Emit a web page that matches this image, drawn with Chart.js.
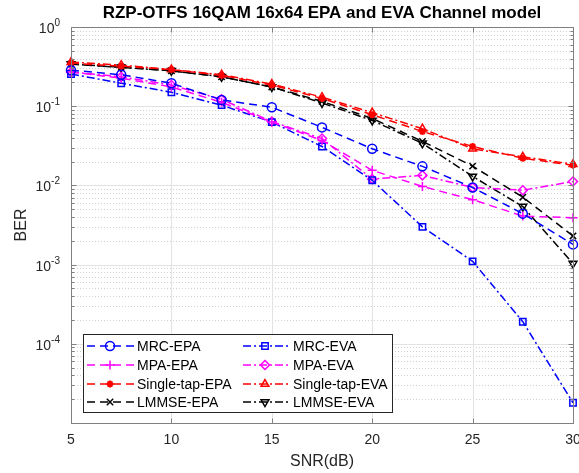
<!DOCTYPE html>
<html>
<head>
<meta charset="utf-8">
<script src="https://cdn.jsdelivr.net/npm/chart.js@4/dist/chart.umd.min.js"></script>
<style>
  html, body { margin: 0; padding: 0; background: #fff; }
  canvas { display: block; }
</style>
</head>
<body>
<canvas id="berChart" width="579" height="473"></canvas>
<script>
// SNR axis (dB)
const snr = [5, 7.5, 10, 12.5, 15, 17.5, 20, 22.5, 25, 27.5, 30];

// BER curves
const mrcEpa   = [0.285, 0.25, 0.195, 0.12, 0.097, 0.054, 0.029, 0.0174, 0.0094, 0.0044, 0.0018];
const mpaEpa   = [0.27, 0.226, 0.175, 0.112, 0.063, 0.037, 0.0155, 0.0097, 0.0066, 0.0041, 0.0039];
const stEpa    = [0.35, 0.32, 0.29, 0.245, 0.185, 0.125, 0.078, 0.048, 0.031, 0.022, 0.018];
const lmmseEpa = [0.34, 0.31, 0.28, 0.235, 0.175, 0.115, 0.07, 0.036, 0.0175, 0.0071, 0.0023];
const mrcEva   = [0.255, 0.195, 0.15, 0.103, 0.063, 0.031, 0.0116, 0.003, 0.0011, 0.00019, 0.000018];
const mpaEva   = [0.27, 0.235, 0.185, 0.122, 0.064, 0.039, 0.012, 0.0134, 0.0094, 0.0087, 0.0112];
const stEva    = [0.36, 0.33, 0.29, 0.25, 0.19, 0.13, 0.083, 0.052, 0.029, 0.023, 0.0185];
const lmmseEva = [0.34, 0.31, 0.28, 0.235, 0.175, 0.11, 0.066, 0.034, 0.013, 0.0054, 0.00103];

// tick labels
const xTicks = [5, 10, 15, 20, 25, 30];
const yTickExps = [0, -1, -2, -3, -4];

const FONT = '"Liberation Sans", Arial, sans-serif';
const TXT = '#262626';
const DASH = [8, 5];
const DASHDOT = [8, 3, 2, 3];

function series(label, data, color, dash, style, rot) {
    return {
        label: label,
        data: data.map((v, i) => ({ x: snr[i], y: v })),
        borderColor: color,
        backgroundColor: color,
        borderWidth: 1.5,
        borderDash: dash,
        pointStyle: style,
        pointRotation: rot || 0,
        pointRadius: style === 'star' ? 3.5 : 4.5,
        pointBorderWidth: style === 'star' ? 2 : 1.5,
        pointBorderColor: color,
        pointBackgroundColor: style === 'star' ? color : 'rgba(0,0,0,0)',
        tension: 0,
        clip: false
    };
}

const datasets = [
    series('MRC-EPA', mrcEpa, '#0000ff', DASH, 'circle'),
    series('MPA-EPA', mpaEpa, '#ff00ff', DASH, 'cross'),
    series('Single-tap-EPA', stEpa, '#ff0000', DASH, 'star'),
    series('LMMSE-EPA', lmmseEpa, '#000000', DASH, 'crossRot'),
    series('MRC-EVA', mrcEva, '#0000ff', DASHDOT, 'rect'),
    series('MPA-EVA', mpaEva, '#ff00ff', DASHDOT, 'rectRot'),
    series('Single-tap-EVA', stEva, '#ff0000', DASHDOT, 'triangle'),
    series('LMMSE-EVA', lmmseEva, '#000000', DASHDOT, 'triangle', 180)
];

function marker(ctx, ds, x, y) {
    ctx.save();
    ctx.strokeStyle = ds.pointBorderColor;
    ctx.fillStyle = ds.pointBackgroundColor;
    ctx.lineWidth = ds.pointBorderWidth;
    ctx.setLineDash([]);
    if (Chart.helpers && Chart.helpers.drawPoint) {
        Chart.helpers.drawPoint(ctx, {
            pointStyle: ds.pointStyle, rotation: ds.pointRotation,
            radius: ds.pointRadius, borderWidth: ds.pointBorderWidth
        }, x, y);
    } else {
        ctx.beginPath();
        ctx.arc(x, y, ds.pointRadius, 0, Math.PI * 2);
        ctx.stroke();
    }
    ctx.restore();
}

// MATLAB-like axes: grid, box, inner ticks, labels, title, legend
const matlabAxes = {
    id: 'matlabAxes',
    beforeDatasetsDraw(chart) {
        const { ctx, chartArea: a, scales: { x, y } } = chart;
        ctx.save();
        ctx.lineWidth = 1;
        // minor y grid
        ctx.strokeStyle = '#d0d0d0';
        ctx.setLineDash([1, 2]);
        for (let e = -5; e < 0; e++) {
            for (let m = 2; m <= 9; m++) {
                const py = Math.round(y.getPixelForValue(m * Math.pow(10, e))) + 0.5;
                ctx.beginPath(); ctx.moveTo(a.left, py); ctx.lineTo(a.right, py); ctx.stroke();
            }
        }
        // major grid
        ctx.setLineDash([]);
        ctx.strokeStyle = '#e3e3e3';
        for (let e = -5; e <= 0; e++) {
            const py = Math.round(y.getPixelForValue(Math.pow(10, e))) + 0.5;
            ctx.beginPath(); ctx.moveTo(a.left, py); ctx.lineTo(a.right, py); ctx.stroke();
        }
        xTicks.forEach(v => {
            const px = Math.round(x.getPixelForValue(v)) + 0.5;
            ctx.beginPath(); ctx.moveTo(px, a.top); ctx.lineTo(px, a.bottom); ctx.stroke();
        });
        ctx.restore();
    },
    afterDraw(chart) {
        const { ctx, chartArea: a, scales: { x, y } } = chart;
        ctx.save();
        ctx.setLineDash([]);
        ctx.lineWidth = 1;
        ctx.strokeStyle = '#808080';
        const L = Math.round(a.left) + 0.5, R = Math.round(a.right) + 0.5;
        const T = Math.round(a.top) + 0.5, B = Math.round(a.bottom) + 0.5;
        ctx.strokeRect(L, T, R - L, B - T);

        // ticks
        ctx.beginPath();
        for (let e = -5; e <= 0; e++) {
            const py = Math.round(y.getPixelForValue(Math.pow(10, e))) + 0.5;
            ctx.moveTo(L, py); ctx.lineTo(L + 5, py);
            ctx.moveTo(R, py); ctx.lineTo(R - 5, py);
            if (e < 0) {
                for (let m = 2; m <= 9; m++) {
                    const pm = Math.round(y.getPixelForValue(m * Math.pow(10, e))) + 0.5;
                    ctx.moveTo(L, pm); ctx.lineTo(L + 3, pm);
                    ctx.moveTo(R, pm); ctx.lineTo(R - 3, pm);
                }
            }
        }
        xTicks.forEach(v => {
            const px = Math.round(x.getPixelForValue(v)) + 0.5;
            ctx.moveTo(px, B); ctx.lineTo(px, B - 5);
            ctx.moveTo(px, T); ctx.lineTo(px, T + 5);
        });
        ctx.stroke();

        // x tick labels
        ctx.fillStyle = TXT;
        ctx.font = '14px ' + FONT;
        ctx.textAlign = 'center';
        ctx.textBaseline = 'top';
        xTicks.forEach(v => ctx.fillText(String(v), x.getPixelForValue(v), a.bottom + 10));

        // y tick labels 10^k
        yTickExps.forEach(e => {
            const py = y.getPixelForValue(Math.pow(10, e));
            const sup = e === 0 ? '0' : '-' + Math.abs(e);
            ctx.font = '10px ' + FONT;
            const sw = ctx.measureText(sup).width;
            ctx.textAlign = 'left';
            ctx.textBaseline = 'alphabetic';
            ctx.fillText(sup, a.left - 11 - sw, py - 1);
            ctx.font = '14px ' + FONT;
            ctx.textAlign = 'right';
            ctx.fillText('10', a.left - 11 - sw, py + 6);
        });

        // axis titles
        ctx.font = '16px ' + FONT;
        ctx.textAlign = 'center';
        ctx.textBaseline = 'middle';
        ctx.fillText('SNR(dB)', (a.left + a.right) / 2, 462);
        ctx.save();
        ctx.translate(22, (a.top + a.bottom) / 2);
        ctx.rotate(-Math.PI / 2);
        ctx.fillText('BER', 0, 0);
        ctx.restore();

        // title
        ctx.fillStyle = '#000';
        ctx.font = 'bold 17px ' + FONT;
        ctx.fillText('RZP-OTFS 16QAM 16x64 EPA and EVA Channel model', (a.left + a.right) / 2, 13);

        // legend box (two columns: EPA | EVA)
        const bx = 83.5, by = 334.5, bw = 309, bh = 78;
        ctx.fillStyle = '#fff';
        ctx.fillRect(bx, by, bw, bh);
        ctx.strokeStyle = '#262626';
        ctx.strokeRect(bx, by, bw, bh);
        const cols = [{ l0: 87, l1: 134, mk: 110, tx: 137 }, { l0: 243, l1: 290, mk: 265, tx: 293 }];
        const rowY = [346, 365, 384, 402];
        chart.data.datasets.forEach((ds, i) => {
            const c = cols[Math.floor(i / 4)];
            const ry = rowY[i % 4];
            ctx.save();
            ctx.strokeStyle = ds.borderColor;
            ctx.lineWidth = ds.borderWidth;
            ctx.setLineDash(ds.borderDash);
            ctx.beginPath(); ctx.moveTo(c.l0, ry); ctx.lineTo(c.l1, ry); ctx.stroke();
            ctx.restore();
            marker(ctx, ds, c.mk, ry);
            ctx.fillStyle = '#000';
            ctx.font = '14px ' + FONT;
            ctx.textAlign = 'left';
            ctx.textBaseline = 'middle';
            ctx.fillText(ds.label, c.tx, ry + 1);
        });
        ctx.restore();
    }
};

new Chart(document.getElementById('berChart'), {
    type: 'line',
    data: { datasets: datasets },
    options: {
        responsive: false,
        animation: false,
        devicePixelRatio: 1,
        layout: { padding: { left: 71, right: 3, top: 27, bottom: 50 } },
        plugins: { legend: { display: false }, title: { display: false }, tooltip: { enabled: false } },
        scales: {
            x: { type: 'linear', min: 5, max: 30, display: false },
            y: { type: 'logarithmic', min: 1e-5, max: 1, display: false }
        }
    },
    plugins: [matlabAxes]
});
</script>
</body>
</html>
